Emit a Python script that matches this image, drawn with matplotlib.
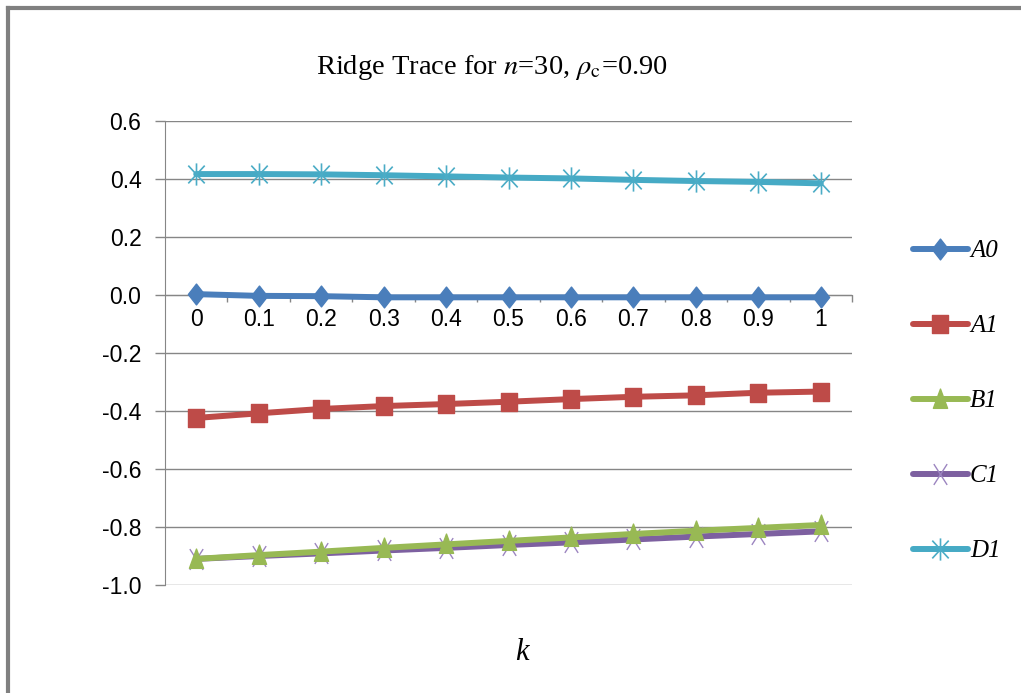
import matplotlib
matplotlib.use("Agg")
import matplotlib.pyplot as plt
from matplotlib.path import Path
from matplotlib.lines import Line2D

plt.rcParams["mathtext.fontset"] = "stix"

k_labels = ["0", "0.1", "0.2", "0.3", "0.4", "0.5", "0.6", "0.7", "0.8", "0.9", "1"]
A0 = [0.003, -0.003, -0.004, -0.008, -0.008, -0.008, -0.008, -0.008, -0.008, -0.008, -0.008]
A1 = [-0.424, -0.408, -0.393, -0.383, -0.376, -0.368, -0.359, -0.351, -0.346, -0.337, -0.333]
B1 = [-0.910, -0.897, -0.885, -0.872, -0.860, -0.848, -0.836, -0.824, -0.813, -0.803, -0.793]
C1 = [-0.910, -0.900, -0.891, -0.881, -0.872, -0.862, -0.853, -0.843, -0.833, -0.824, -0.815]
D1 = [0.417, 0.417, 0.416, 0.413, 0.409, 0.405, 0.402, 0.397, 0.393, 0.390, 0.385]
series_names = ["A0", "A1", "B1", "C1", "D1"]
y_ticks = [0.6, 0.4, 0.2, 0.0, -0.2, -0.4, -0.6, -0.8, -1.0]
y_tick_labels = ["0.6", "0.4", "0.2", "0.0", "-0.2", "-0.4", "-0.6", "-0.8", "-1.0"]

colors = ["#4A7EBB", "#BE4B48", "#98B954", "#7D60A0", "#46AAC5"]
marker_colors = ["#4A7EBB", "#BE4B48", "#98B954", "#9C85C0", "#4BACC6"]

diamond = Path([(0, 1), (0.78, 0), (0, -1), (-0.78, 0), (0, 1)],
               [Path.MOVETO, Path.LINETO, Path.LINETO, Path.LINETO, Path.CLOSEPOLY])
square = Path([(-0.9, -1), (0.9, -1), (0.9, 1), (-0.9, 1), (-0.9, -1)],
              [Path.MOVETO, Path.LINETO, Path.LINETO, Path.LINETO, Path.CLOSEPOLY])
tri = Path([(-0.68, -0.85), (0.68, -0.85), (0, 1), (-0.68, -0.85)],
           [Path.MOVETO, Path.LINETO, Path.LINETO, Path.CLOSEPOLY])
xmark = Path([(-0.64, -1), (0.64, 1), (-0.64, 1), (0.64, -1)],
             [Path.MOVETO, Path.LINETO, Path.MOVETO, Path.LINETO])
star = Path([(-0.74, -0.8), (0.74, 0.8), (-0.74, 0.8), (0.74, -0.8), (0, -1), (0, 1)],
            [Path.MOVETO, Path.LINETO, Path.MOVETO, Path.LINETO, Path.MOVETO, Path.LINETO])
markers = [diamond, square, tri, xmark, star]
msizes = [15, 13, 15, 15, 16]
mews = [1, 1, 1, 1.0, 1.2]

fig = plt.figure(figsize=(10.21, 6.93), dpi=100)
ax = fig.add_axes([165/1021, 1-585/693, (852-165)/1021, (585-121)/693])

x = list(range(len(k_labels)))
data = [A0, A1, B1, C1, D1]
handles = []
for i, (name, vals) in enumerate(zip(series_names, data)):
    ln, = ax.plot(x, vals, color=colors[i], lw=4.3, marker=markers[i], ms=msizes[i],
                  mfc=marker_colors[i], mec=marker_colors[i], mew=mews[i],
                  solid_capstyle="round", label=name, zorder=3 + (1 if i == 2 else 0))
    handles.append(ln)

ax.set_xlim(-0.5, 10.5)
ax.set_ylim(-1.0, 0.6)
ax.set_yticks(y_ticks)
ax.set_yticklabels(y_tick_labels, fontsize=16.5, family="Liberation Sans")
ax.yaxis.grid(True, color="#868686", lw=1)
ax.set_axisbelow(True)
ax.tick_params(axis="y", length=7, color="#868686", width=1, pad=10)

ax.spines["bottom"].set_position(("data", 0))
ax.spines["bottom"].set_color("#868686")
ax.spines["left"].set_color("#868686")
ax.spines["top"].set_visible(False)
ax.spines["right"].set_visible(False)
ax.set_xticks(x)
ax.set_xticklabels(k_labels, fontsize=16.5, family="Liberation Sans")
ax.tick_params(axis="x", which="major", length=0, pad=9)
ax.set_xticks([i + 0.5 for i in x], minor=True)
ax.tick_params(axis="x", which="minor", length=5, color="#868686", width=1)

fig.text(492/1021, 1-67/693, r"Ridge Trace for $\mathit{n}$=30, $\rho_{\mathrm{c}}$=0.90",
         ha="center", va="center", fontsize=20.5, family="Liberation Serif")
fig.text(522/1021, 1-652/693, "k", ha="center", va="center", fontsize=22,
         family="Liberation Serif", style="italic")

leg = fig.legend(handles=handles, labels=series_names, loc="center left",
                 bbox_to_anchor=(890/1021, 1-401/693), frameon=False,
                 prop={"family": "Liberation Serif", "style": "italic", "size": 18},
                 handlelength=2.2, labelspacing=2.1, handletextpad=0.1)

fig.add_artist(Line2D([8/1021, 8/1021], [0, 1-8/693], color="#808080", lw=3))
fig.add_artist(Line2D([8/1021, 1], [1-8/693, 1-8/693], color="#808080", lw=3))

fig.savefig("out.png", dpi=100)
